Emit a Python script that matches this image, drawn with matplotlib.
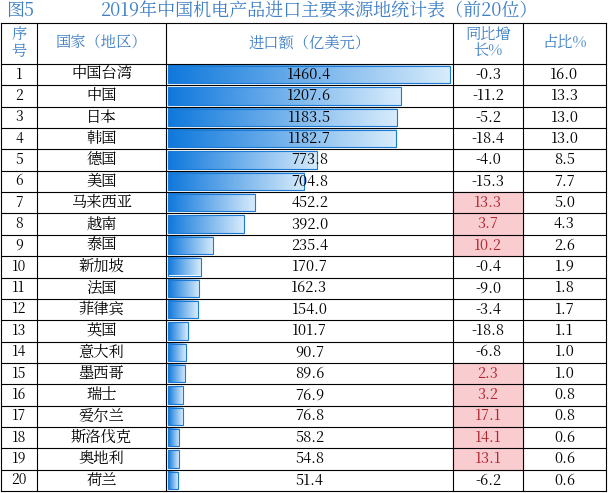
import numpy as np
import matplotlib
matplotlib.use("Agg")
import matplotlib.pyplot as plt
from matplotlib import font_manager
from matplotlib.patches import Rectangle

# pick whatever CJK family is registered
cjk = [f.name for f in font_manager.fontManager.ttflist if "CJK" in f.name]
pref = [n for n in cjk if "SC" in n] or cjk
plt.rcParams["font.family"] = "sans-serif"
plt.rcParams["font.sans-serif"] = pref[:1] + ["Noto Sans CJK SC", "Noto Sans CJK JP", "DejaVu Sans"]

ranks = list(range(1, 21))
countries = ["中国台湾", "中国", "日本", "韩国", "德国", "美国", "马来西亚", "越南", "泰国", "新加坡",
             "法国", "菲律宾", "英国", "意大利", "墨西哥", "瑞士", "爱尔兰", "斯洛伐克", "奥地利", "荷兰"]
imports = [1460.4, 1207.6, 1183.5, 1182.7, 773.8, 704.8, 452.2, 392.0, 235.4, 170.7,
           162.3, 154.0, 101.7, 90.7, 89.6, 76.9, 76.8, 58.2, 54.8, 51.4]
growth = [-0.3, -11.2, -5.2, -18.4, -4.0, -15.3, 13.3, 3.7, 10.2, -0.4,
          -9.0, -3.4, -18.8, -6.8, 2.3, 3.2, 17.1, 14.1, 13.1, -6.2]
share = [16.0, 13.3, 13.0, 13.0, 8.5, 7.7, 5.0, 4.3, 2.6, 1.9,
         1.8, 1.7, 1.1, 1.0, 1.0, 0.8, 0.8, 0.6, 0.6, 0.6]

W, H = 608, 493
fig = plt.figure(figsize=(W / 100, H / 100), dpi=100)
ax = fig.add_axes([0, 0, 1, 1])
ax.set_xlim(0, W)
ax.set_ylim(H, 0)
ax.axis("off")

blue = "#3f7fc4"
cols = [1, 37, 166, 453, 523, 606]
top, head_bot, bot = 23, 64, 491
row_h = (bot - head_bot) / 20

ax.text(6, 11, "图5", color=blue, fontsize=13, va="center", ha="left")
ax.text(320, 11, "2019年中国机电产品进口主要来源地统计表（前20位）", color=blue,
        fontsize=13, va="center", ha="center")

headers = ["序\n号", "国家（地区）", "进口额（亿美元）", "同比增\n长%", "占比%"]
for i, h in enumerate(headers):
    ax.text((cols[i] + cols[i + 1]) / 2, (top + head_bot) / 2, h, color=blue,
            fontsize=11, ha="center", va="center", linespacing=1.0)

grad = np.linspace(0, 1, 256).reshape(1, -1)
cmap = matplotlib.colors.LinearSegmentedColormap.from_list("g", ["#0f78dc", "#d8ecfb"])
bar_x0 = cols[2] + 2
bar_max = 282
for r in range(20):
    y0 = head_bot + r * row_h
    yc = y0 + row_h / 2
    if growth[r] > 0:
        ax.add_patch(Rectangle((cols[3], y0), cols[4] - cols[3], row_h, color="#f9ccd0", zorder=0))
    bw = imports[r] / imports[0] * bar_max
    ax.imshow(grad, cmap=cmap, extent=(bar_x0, bar_x0 + bw, y0 + row_h - 2, y0 + 2),
              aspect="auto", zorder=1)
    ax.add_patch(Rectangle((bar_x0, y0 + 2), bw, row_h - 4, fill=False,
                           edgecolor="#1a7ad6", lw=0.8, zorder=2))
    ax.text((cols[0] + cols[1]) / 2, yc, str(ranks[r]), ha="center", va="center", fontsize=10, zorder=3)
    ax.text((cols[1] + cols[2]) / 2, yc, countries[r], ha="center", va="center", fontsize=11, zorder=3)
    ax.text((cols[2] + cols[3]) / 2, yc, f"{imports[r]:.1f}", ha="center", va="center", fontsize=10.5, zorder=3)
    ax.text((cols[3] + cols[4]) / 2, yc, f"{growth[r]:.1f}", ha="center", va="center", fontsize=10.5,
            color="#b0242c" if growth[r] > 0 else "black", zorder=3)
    ax.text((cols[4] + cols[5]) / 2, yc, f"{share[r]:.1f}", ha="center", va="center", fontsize=10.5, zorder=3)

# grid
for x in cols:
    ax.plot([x, x], [top, bot], color="black", lw=0.8, zorder=4)
for r in range(21):
    y = head_bot + r * row_h
    ax.plot([cols[0], cols[-1]], [y, y], color="black", lw=0.8, zorder=4)
ax.plot([cols[0], cols[-1]], [top, top], color="black", lw=0.8, zorder=4)

fig.savefig("out.png", dpi=100)
